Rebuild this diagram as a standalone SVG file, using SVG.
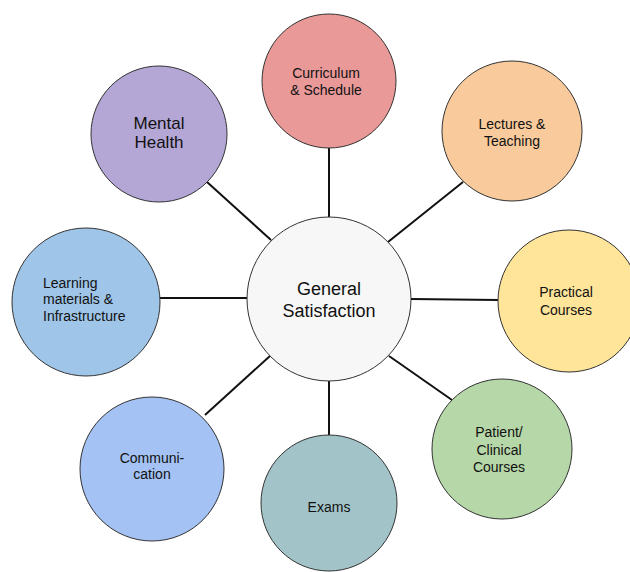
<svg xmlns="http://www.w3.org/2000/svg" width="630" height="572" viewBox="0 0 630 572">
  <style>
    .node { stroke: #333333; stroke-width: 1; }
    .lbl { font-family: "Liberation Sans", Arial, sans-serif; font-size: 14px; fill: #111111; text-anchor: middle; }
    .big { font-size: 17px; }
    .hub { font-size: 18px; }
    .left { text-anchor: start; }
    #connectors line { stroke: #111111; stroke-width: 2; }
  </style>
  <rect width="630" height="572" fill="#ffffff"/>

  <!-- spokes from the hub to each topic -->
  <g id="connectors">
    <line x1="329" y1="148" x2="329" y2="218"/>
    <line x1="463" y1="182" x2="388" y2="242"/>
    <line x1="411" y1="299" x2="498" y2="300"/>
    <line x1="389" y1="356" x2="452" y2="400"/>
    <line x1="329" y1="380" x2="329" y2="435"/>
    <line x1="270" y1="356" x2="205" y2="415"/>
    <line x1="160" y1="298" x2="247" y2="298"/>
    <line x1="207" y1="182" x2="271" y2="240"/>
  </g>

  <g id="general-satisfaction">
    <circle class="node" cx="329" cy="299" r="82" fill="#f7f7f7"/>
    <text class="lbl hub" x="329" y="295">General</text>
    <text class="lbl hub" x="329" y="317">Satisfaction</text>
  </g>

  <g id="curriculum">
    <circle class="node" cx="329" cy="81" r="67" fill="#ea9999"/>
    <text class="lbl" x="326" y="77.5">Curriculum</text>
    <text class="lbl" x="326" y="95">&amp; Schedule</text>
  </g>

  <g id="lectures">
    <circle class="node" cx="512" cy="131" r="70" fill="#f9cb9c"/>
    <text class="lbl" x="512" y="129">Lectures &amp;</text>
    <text class="lbl" x="512" y="146">Teaching</text>
  </g>

  <g id="practical">
    <circle class="node" cx="569" cy="301" r="71" fill="#ffe599"/>
    <text class="lbl" x="566" y="297">Practical</text>
    <text class="lbl" x="566" y="315">Courses</text>
  </g>

  <g id="patient">
    <circle class="node" cx="502" cy="449" r="70" fill="#b6d7a8"/>
    <text class="lbl" x="499" y="437">Patient/</text>
    <text class="lbl" x="499" y="455">Clinical</text>
    <text class="lbl" x="499" y="472">Courses</text>
  </g>

  <g id="exams">
    <circle class="node" cx="329" cy="503" r="68" fill="#a2c4c9"/>
    <text class="lbl" x="329" y="512">Exams</text>
  </g>

  <g id="communication">
    <circle class="node" cx="152" cy="469" r="72" fill="#a4c2f4"/>
    <text class="lbl" x="152" y="463">Communi-</text>
    <text class="lbl" x="152" y="479">cation</text>
  </g>

  <g id="learning">
    <circle class="node" cx="86" cy="302" r="74" fill="#9fc5e8"/>
    <text class="lbl left" x="43" y="288">Learning</text>
    <text class="lbl left" x="43" y="304">materials &amp;</text>
    <text class="lbl left" x="43" y="321">Infrastructure</text>
  </g>

  <g id="mental-health">
    <circle class="node" cx="159" cy="134" r="68" fill="#b4a7d6"/>
    <text class="lbl big" x="159" y="129">Mental</text>
    <text class="lbl big" x="159" y="148">Health</text>
  </g>
</svg>
